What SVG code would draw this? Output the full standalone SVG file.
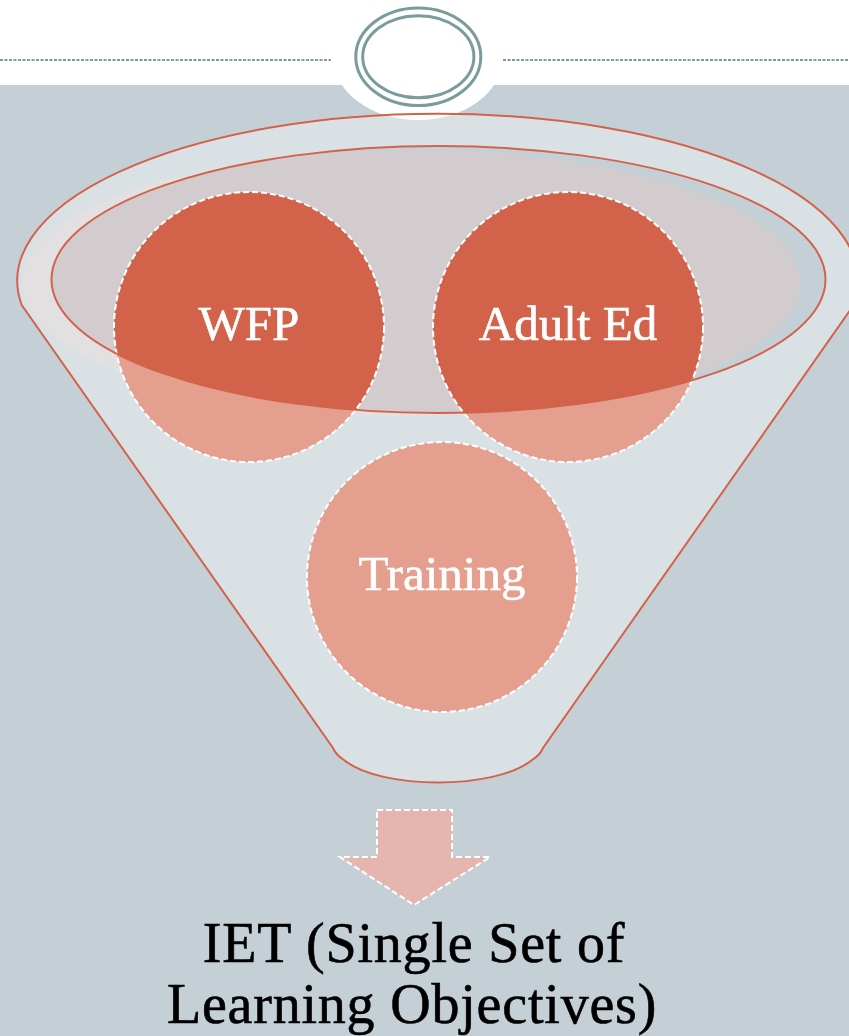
<svg xmlns="http://www.w3.org/2000/svg" width="849" height="1036" viewBox="0 0 849 1036">
  <defs>
    <style>
      .rim { fill: none; stroke: #D2634A; stroke-width: 2; }
      .node-dark { fill: #D2634A; }
      .node-light { fill: #E49F8E; }
      .node-edge { fill: none; stroke: #FFFFFF; stroke-width: 2; stroke-dasharray: 6 3; }
      .node-label { font-family: "Liberation Serif", "Times New Roman", serif; font-size: 49px; fill: #FFFFFF; stroke: #FFFFFF; stroke-width: 0.6; text-anchor: middle; }
      .result { font-family: "Liberation Serif", "Times New Roman", serif; font-size: 56px; letter-spacing: 0.8px; fill: #000000; stroke: #000000; stroke-width: 0.6; text-anchor: middle; }
      .ring { fill: none; stroke: #7A9C9A; stroke-width: 3; }
    </style>
    <!-- funnel outline: elliptical rim, straight sides, rounded neck -->
    <path id="funnel-shape" d="M 21.7 305 A 420.5 167 0 1 1 853.8 305 L 543 748 Q 540 755 532 760 C 495 790 381 790 344 760 Q 336 755 333 748 Z"/>
    <clipPath id="opening">
      <ellipse cx="438.5" cy="279.5" rx="387" ry="133.5"/>
    </clipPath>
  </defs>

  <!-- page background -->
  <rect x="0" y="0" width="849" height="1036" fill="#FFFFFF"/>
  <rect x="0" y="85" width="849" height="951" fill="#C5D0D6"/>

  <!-- funnel body -->
  <g id="funnel">
    <use href="#funnel-shape" fill="#DAE1E5"/>
    <ellipse cx="411" cy="283" rx="389" ry="133" fill="#E3E0E2"/>
    <ellipse cx="438.5" cy="279.5" rx="387" ry="133.5" fill="#C5D0D6"/>
    <ellipse cx="411" cy="283" rx="389" ry="133" fill="#D3CCCF" clip-path="url(#opening)"/>
  </g>

  <!-- header ornament -->
  <g id="header">
    <ellipse cx="418" cy="57" rx="85" ry="63" fill="#FFFFFF"/>
    <line x1="0" y1="60" x2="331" y2="60" stroke="#7E9E9C" stroke-width="2" stroke-dasharray="3 1.5"/>
    <line x1="503" y1="60" x2="849" y2="60" stroke="#7E9E9C" stroke-width="2" stroke-dasharray="3 1.5"/>
    <ellipse class="ring" cx="418.3" cy="56.7" rx="62.5" ry="48.8"/>
    <ellipse class="ring" cx="418.3" cy="56.7" rx="55.6" ry="41"/>
  </g>

  <!-- input nodes -->
  <g id="node-wfp">
    <circle class="node-light" cx="249" cy="327" r="135"/>
    <circle class="node-dark" cx="249" cy="327" r="135" clip-path="url(#opening)"/>
    <circle class="node-edge" cx="249" cy="327" r="135"/>
    <text class="node-label" x="249" y="340">WFP</text>
  </g>
  <g id="node-adult-ed">
    <circle class="node-light" cx="568" cy="327" r="135"/>
    <circle class="node-dark" cx="568" cy="327" r="135" clip-path="url(#opening)"/>
    <circle class="node-edge" cx="568" cy="327" r="135"/>
    <text class="node-label" x="568" y="340">Adult Ed</text>
  </g>
  <g id="node-training">
    <circle class="node-light" cx="442" cy="577" r="135"/>
    <circle class="node-edge" cx="442" cy="577" r="135"/>
    <text class="node-label" x="442" y="590">Training</text>
  </g>

  <!-- funnel outlines drawn above the nodes -->
  <g id="funnel-lines">
    <use href="#funnel-shape" class="rim"/>
    <ellipse class="rim" cx="438.5" cy="279.5" rx="387" ry="133.5"/>
  </g>

  <!-- output arrow -->
  <g id="connectors">
    <polygon points="377,810 452,810 452,857 490,857 414,905 340,857 377,857" fill="#E5B6AF" stroke="#FFFFFF" stroke-width="2" stroke-dasharray="6 3"/>
  </g>

  <!-- result label -->
  <g id="result-label">
    <text class="result" x="414" y="962">IET (Single Set of</text>
    <text class="result" x="412" y="1023">Learning Objectives)</text>
  </g>
</svg>
